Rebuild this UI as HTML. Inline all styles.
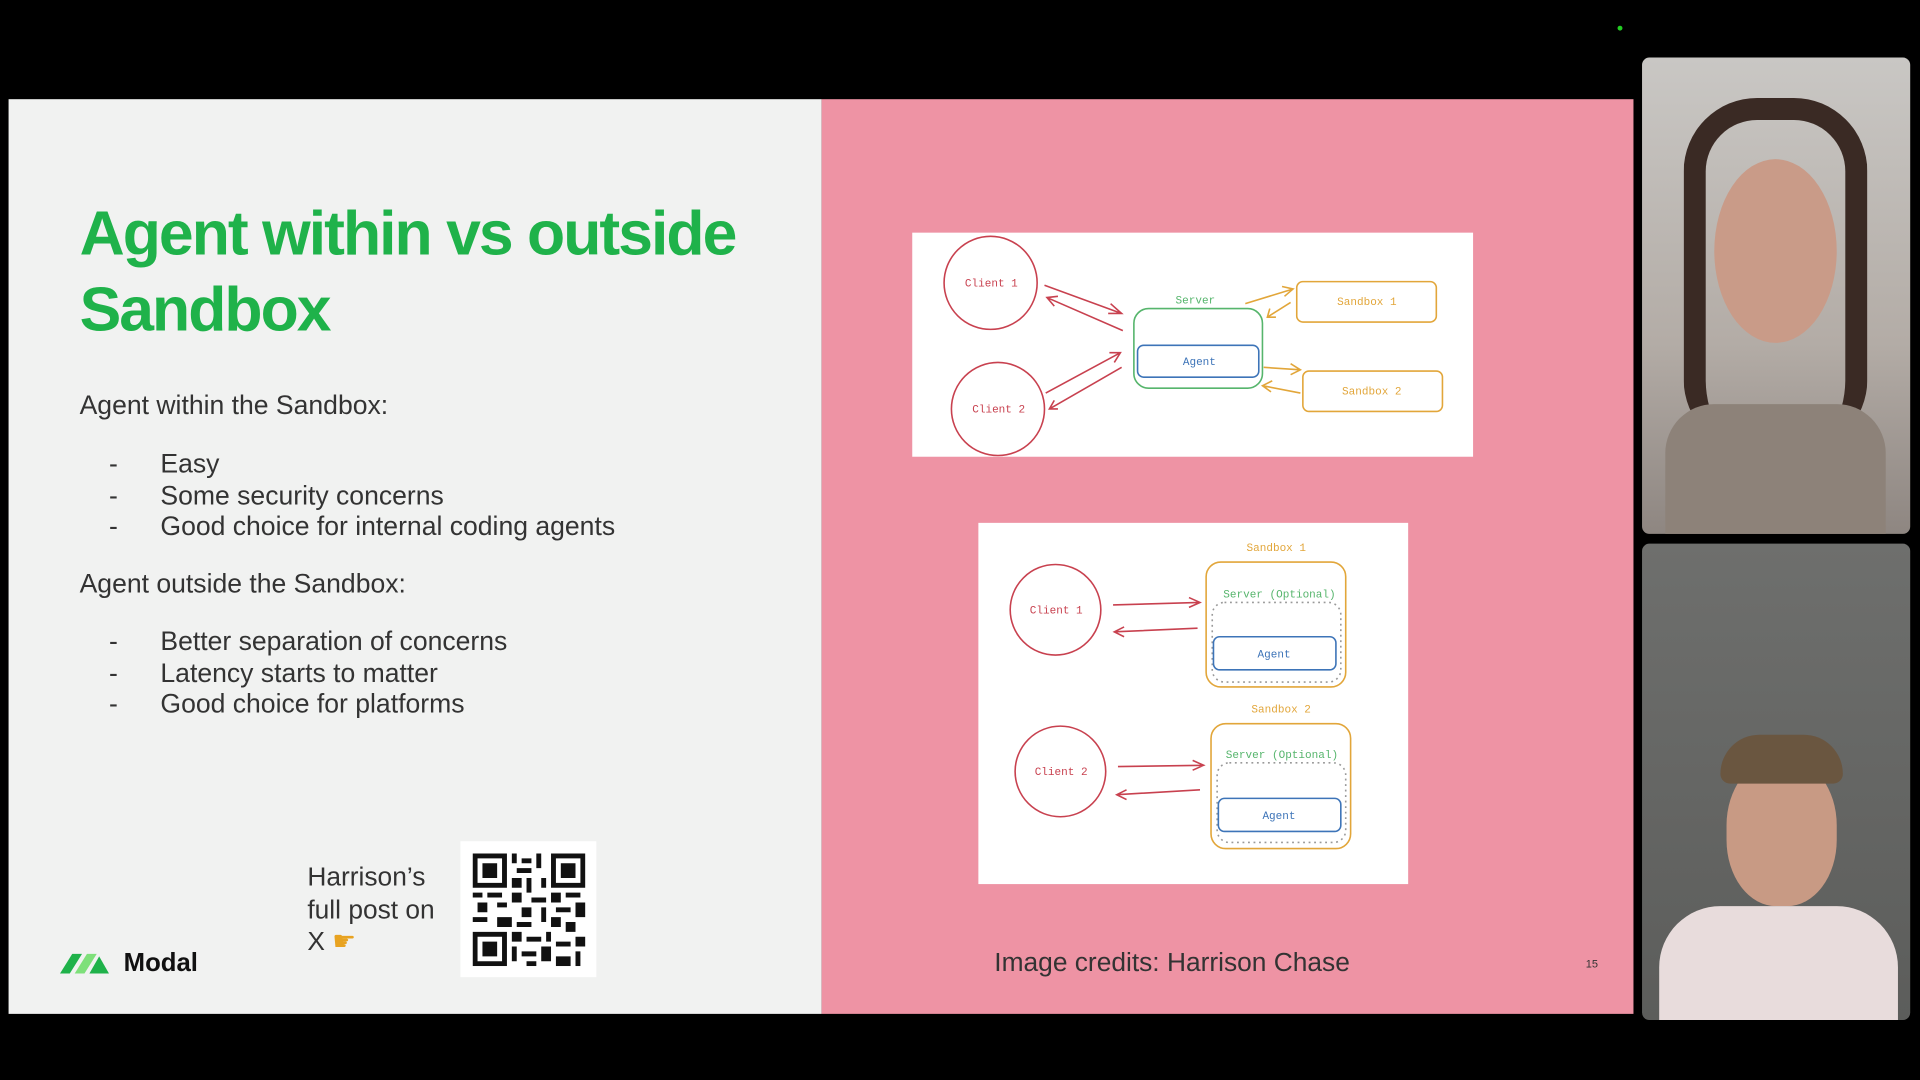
<!DOCTYPE html>
<html><head><style>
html,body{margin:0;padding:0;background:#000;width:1920px;height:1080px;overflow:hidden}
#w{position:absolute;left:0;top:0;width:1568px;height:882px;transform:scale(1.22449);transform-origin:0 0;font-family:"Liberation Sans",sans-serif}
.a{position:absolute}
</style></head><body><div id="w">
<div class="a" style="left:7px;top:81px;width:664px;height:747px;background:#f1f2f1"></div>
<div class="a" style="left:671px;top:81px;width:663px;height:747px;background:#ee93a4"></div>
<div class="a" style="left:65px;top:160px;font-size:51px;line-height:62px;color:#1fb24a;letter-spacing:-1.6px;font-weight:bold">Agent within vs outside<br>Sandbox</div>
<div class="a" style="left:65px;top:318px;font-size:21.7px;color:#333;line-height:25.5px">Agent within the Sandbox:</div>
<div class="a" style="left:89px;top:366px;font-size:21.7px;color:#333;line-height:25.5px">-<br>-<br>-</div>
<div class="a" style="left:131px;top:366px;font-size:21.7px;color:#333;line-height:25.5px">Easy<br>Some security concerns<br>Good choice for internal coding agents</div>
<div class="a" style="left:65px;top:464px;font-size:21.7px;color:#333;line-height:25.5px">Agent outside the Sandbox:</div>
<div class="a" style="left:89px;top:511px;font-size:21.7px;color:#333;line-height:25.5px">-<br>-<br>-</div>
<div class="a" style="left:131px;top:511px;font-size:21.7px;color:#333;line-height:25.5px">Better separation of concerns<br>Latency starts to matter<br>Good choice for platforms</div>
<div class="a" style="left:251px;top:703px;font-size:21.5px;color:#333;line-height:26.5px">Harrison’s<br>full post on<br>X <span style="color:#e8a321">☛</span></div>
<div class="a" style="left:376px;top:687px;width:111px;height:111px;background:#fff"></div>
<svg class="a" style="left:386px;top:697px" width="92" height="92" viewBox="0 0 23 23">
<rect width="23" height="23" fill="#fff"/>
<g fill="#111">
<path d="M0 0h7v7H0zM16 0h7v7h-7zM0 16h7v7H0z"/>
</g>
<g fill="#fff"><path d="M1 1h5v5H1zM17 1h5v5h-5zM1 17h5v5H1z"/></g>
<g fill="#111"><path d="M2 2h3v3H2zM18 2h3v3h-3zM2 18h3v3H2z"/>
<path d="M8 0h1v2H8zM10 1h2v1h-2zM13 0h1v3h-1zM9 3h3v1H9zM8 5h2v2H8zM11 5h1v3h-1zM14 5h1v2h-1zM0 8h2v1H0zM3 8h3v1H3zM8 8h2v2H8zM12 9h3v1h-3zM16 8h2v2h-2zM19 8h3v1h-3zM1 10h2v2H1zM5 10h2v1H5zM10 11h2v2h-2zM14 11h1v3h-1zM17 11h3v1h-3zM21 10h2v3h-2zM0 13h3v1H0zM5 13h3v2H5zM9 14h3v1H9zM16 13h2v2h-2zM19 14h2v2h-2zM8 16h2v2H8zM11 17h3v1h-3zM15 16h1v2h-1zM17 18h3v1h-3zM21 17h2v2h-2zM8 19h1v3H8zM10 20h3v1h-3zM14 19h2v3h-2zM17 21h3v2h-3zM21 20h1v3h-1zM11 22h2v1h-2z"/></g>
</svg>
<svg class="a" style="left:47px;top:775px" width="44" height="24" viewBox="0 0 44 24"><path d="M2 20L12 4h8L10 20z" fill="#1fb24a"/><path d="M14 20L24 4h8L22 20z" fill="#7ee07a"/><path d="M26 20L34 6l8 14z" fill="#1fb24a"/></svg>
<div class="a" style="left:101px;top:775px;font-size:21px;font-weight:bold;color:#111">Modal</div>
<div class="a" style="left:812px;top:774px;font-size:21.5px;color:#333">Image credits: Harrison Chase</div>
<div class="a" style="left:1295px;top:782px;font-size:9px;color:#333">15</div>

<svg class="a" style="left:0;top:0" width="1568" height="882" font-family="Liberation Mono,monospace" font-size="9">
<rect x="745" y="190" width="458" height="183" fill="#fff"/>
<g fill="none" stroke-width="1.3">
<circle cx="809" cy="231" r="38" stroke="#c8414f"/>
<circle cx="815" cy="334" r="38" stroke="#c8414f"/>
<rect x="926" y="252" width="105" height="65" rx="12" stroke="#56b56c"/>
<rect x="929" y="282" width="99" height="26" rx="5" stroke="#3d74b8"/>
<rect x="1059" y="230" width="114" height="33" rx="5" stroke="#e2a63a"/>
<rect x="1064" y="303" width="114" height="33" rx="5" stroke="#e2a63a"/>
<g stroke="#c8414f"><path d="M853 233L916 256M907 248L916 256 905 256M917 270L855 243M861 250L855 243 864 242M854 321L915 288M906 288L915 288 910 296M916 300L857 334M864 334L857 334 861 327"/></g>
<g stroke="#e2a63a"><path d="M1017 248L1056 236M1047 234L1056 236 1049 242M1054 247L1035 259M1037 252L1035 259 1042 259M1032 300L1062 302M1054 297L1062 302 1054 306M1062 321L1031 315M1039 311L1031 315 1038 320"/></g>
</g>
<text x="788" y="234" fill="#c8414f">Client 1</text>
<text x="794" y="337" fill="#c8414f">Client 2</text>
<text x="960" y="248" fill="#56b56c">Server</text>
<text x="966" y="298" fill="#3d74b8">Agent</text>
<text x="1092" y="249" fill="#e2a63a">Sandbox 1</text>
<text x="1096" y="322" fill="#e2a63a">Sandbox 2</text>

<rect x="799" y="427" width="351" height="295" fill="#fff"/>
<g fill="none" stroke-width="1.3">
<circle cx="862" cy="498" r="37" stroke="#c8414f"/>
<circle cx="866" cy="630" r="37" stroke="#c8414f"/>
<rect x="985" y="459" width="114" height="102" rx="12" stroke="#e2a63a"/>
<rect x="989" y="591" width="114" height="102" rx="12" stroke="#e2a63a"/>
<rect x="990" y="492" width="105" height="65" rx="10" stroke="#999" stroke-dasharray="1.5 3"/>
<rect x="994" y="623" width="105" height="65" rx="10" stroke="#999" stroke-dasharray="1.5 3"/>
<rect x="991" y="520" width="100" height="27" rx="5" stroke="#3d74b8"/>
<rect x="995" y="652" width="100" height="27" rx="5" stroke="#3d74b8"/>
<g stroke="#c8414f"><path d="M909 494L980 492M971 488L980 492 971 496M978 513L910 516M918 512L910 516 918 520M913 626L983 625M974 621L983 625 974 629M980 645L912 649M920 645L912 649 920 653"/></g>
</g>
<text x="841" y="501" fill="#c8414f">Client 1</text>
<text x="845" y="633" fill="#c8414f">Client 2</text>
<text x="1018" y="450" fill="#e2a63a">Sandbox 1</text>
<text x="1022" y="582" fill="#e2a63a">Sandbox 2</text>
<text x="999" y="488" fill="#56b56c">Server (Optional)</text>
<text x="1001" y="619" fill="#56b56c">Server (Optional)</text>
<text x="1027" y="537" fill="#3d74b8">Agent</text>
<text x="1031" y="669" fill="#3d74b8">Agent</text>
</svg>

<div class="a" style="left:1341px;top:47px;width:219px;height:389px;background:linear-gradient(#c9c7c4,#b3aca6 60%,#8e8681);border-radius:6px"></div>
<div class="a" style="left:1400px;top:130px;width:100px;height:150px;background:#c99b88;border-radius:50%"></div>
<div class="a" style="left:1375px;top:80px;width:150px;height:290px;border-radius:60px;border:18px solid #3a2a24;border-bottom:none;box-sizing:border-box"></div>
<div class="a" style="left:1360px;top:330px;width:180px;height:106px;background:#8d8279;border-radius:40px 40px 0 0"></div>
<div class="a" style="left:1341px;top:444px;width:219px;height:389px;background:linear-gradient(#6e6f6d,#5c5d5b);border-radius:6px"></div>
<div class="a" style="left:1410px;top:620px;width:90px;height:120px;background:#c89a84;border-radius:45%"></div>
<div class="a" style="left:1405px;top:600px;width:100px;height:40px;background:#6a5640;border-radius:40px 40px 10px 10px"></div>
<div class="a" style="left:1355px;top:740px;width:195px;height:93px;background:#e8dcdc;border-radius:50px 50px 0 0"></div>
<div class="a" style="left:1321px;top:21px;width:4px;height:4px;background:#2c2;border-radius:50%"></div>
</div></body></html>
